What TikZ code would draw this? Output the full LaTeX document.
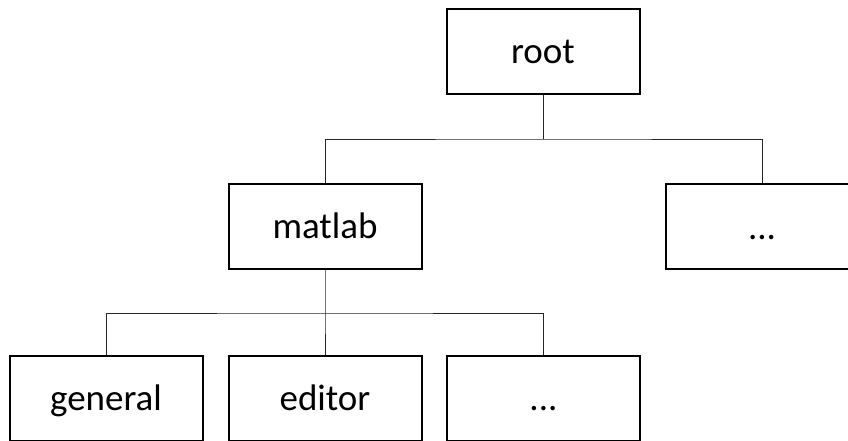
\documentclass[tikz,border=0pt]{standalone}
\usepackage{fontspec}
\setmainfont{Carlito}
\begin{document}
\begin{tikzpicture}[x=1pt,y=-1pt,font=\fontsize{37}{42}\selectfont,
  dirbox/.style={draw=black,line width=2pt,minimum width=193pt,minimum height=85pt,
    inner sep=0pt,text height=25pt,text depth=0pt},
  link/.style={draw=black!85,line width=0.9pt}]
\useasboundingbox (0,0) rectangle (848,440); %page
%boxes
\node[dirbox] (root) at (543,51) {root};
\node[dirbox] (matlab) at (325,226) {matlab};
\node[dirbox] (rdots) at (762,226.5) {...};
\node[dirbox] (general) at (106,398) {general};
\node[dirbox] (editor) at (325,398) {editor};
\node[dirbox] (bdots) at (543.5,398) {...};

%links
\coordinate (bus1) at (543,139);
\coordinate (bus2) at (325,313);
\draw[link] (root.south) -- (bus1);
\draw[link] (matlab.north) |- (bus1) -| (rdots.north); %level 1
\draw[link] (matlab.south) -- (bus2) -- (editor.north);
\draw[link] (general.north) |- (bus2) -| (bdots.north); %level 2
\end{tikzpicture}
\end{document}
